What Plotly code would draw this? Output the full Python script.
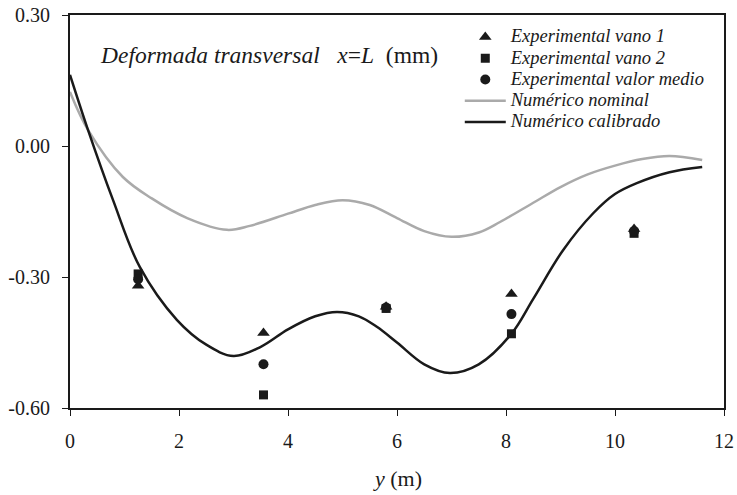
import plotly.graph_objects as go

# Measurement stations across the deck width (m)
y_exp = [1.25, 3.55, 5.8, 8.1, 10.35]
vano1 = [-0.32, -0.428, -0.368, -0.339, -0.19]
vano2 = [-0.293, -0.57, -0.372, -0.43, -0.20]
medio = [-0.305, -0.50, -0.370, -0.385, -0.195]

# Numerical transverse deflection, nominal model
y_nom = [0, 0.33, 0.97, 1.5, 2.15, 2.88, 3.3, 4.0, 4.5, 5.0, 5.5, 6.0, 6.5,
         7.0, 7.5, 7.89, 8.5, 9.0, 9.5, 10.0, 10.5, 11.0, 11.6]
w_nom = [0.124, 0.037, -0.071, -0.12, -0.165, -0.192, -0.183, -0.155, -0.135,
         -0.124, -0.135, -0.165, -0.195, -0.208, -0.198, -0.174, -0.13, -0.094,
         -0.065, -0.045, -0.03, -0.023, -0.032]

# Numerical transverse deflection, calibrated model
y_cal = [0, 0.33, 0.79, 1.28, 1.96, 2.5, 3.0, 3.5, 4.0, 4.5, 4.9, 5.3, 5.63,
         6.0, 6.5, 6.97, 7.5, 8.1, 8.5, 9.05, 9.6, 10.0, 10.4, 11.0, 11.6]
w_cal = [0.163, 0.037, -0.124, -0.277, -0.398, -0.455, -0.481, -0.46, -0.42,
         -0.39, -0.38, -0.39, -0.414, -0.45, -0.50, -0.52, -0.50, -0.43, -0.35,
         -0.238, -0.154, -0.11, -0.085, -0.06, -0.048]

x_ticks = [0, 2, 4, 6, 8, 10, 12]
y_ticks = [0.30, 0.00, -0.30, -0.60]
y_ticktext = ["0.30", "0.00", "-0.30", "-0.60"]

FONT = "Liberation Serif"
INK = "#1a1a1a"


def legend_label(text):
    # larger italic text while keeping the legend row pitch compact
    return f'<span style="font-size:18.5px"><i>{text}</i></span>'


fig = go.Figure()
fig.add_trace(go.Scatter(x=y_exp, y=vano1, mode="markers",
                         name=legend_label("Experimental vano 1"),
                         marker=dict(symbol="triangle-up", size=11, color=INK)))
fig.add_trace(go.Scatter(x=y_exp, y=vano2, mode="markers",
                         name=legend_label("Experimental vano 2"),
                         marker=dict(symbol="square", size=9, color=INK)))
fig.add_trace(go.Scatter(x=y_exp, y=medio, mode="markers",
                         name=legend_label("Experimental valor medio"),
                         marker=dict(symbol="circle", size=10, color=INK)))
fig.add_trace(go.Scatter(x=y_nom, y=w_nom, mode="lines",
                         name=legend_label("Numérico nominal"),
                         line=dict(color="#aaaaaa", width=2.5, shape="spline")))
fig.add_trace(go.Scatter(x=y_cal, y=w_cal, mode="lines",
                         name=legend_label("Numérico calibrado"),
                         line=dict(color=INK, width=2.5, shape="spline")))

# chart caption inside the plot area
fig.add_annotation(
    x=0.043, y=0.898, xref="paper", yref="paper", xanchor="left", yanchor="middle",
    text="<i>Deformada transversal&nbsp;&nbsp;&nbsp;x</i>=<i>L</i>&nbsp;&nbsp;(mm)",
    showarrow=False, font=dict(family=FONT, size=23.5, color=INK))

# x-axis title
fig.add_annotation(
    x=0.5, y=-0.18, xref="paper", yref="paper", xanchor="center", yanchor="middle",
    text="<i>y</i>&nbsp;(m)", showarrow=False,
    font=dict(family=FONT, size=22, color=INK))

fig.update_layout(
    width=737, height=495,
    margin=dict(l=70, r=13, t=15, b=87),
    paper_bgcolor="white", plot_bgcolor="white",
    font=dict(family=FONT, size=20, color=INK),
    showlegend=True,
    legend=dict(x=0.596, y=0.984, xanchor="left", yanchor="top",
                bgcolor="rgba(0,0,0,0)", font=dict(family=FONT, size=14.04),
                tracegroupgap=0, itemwidth=41),
    xaxis=dict(range=[0, 12], tickvals=x_ticks, ticks="outside", ticklen=6,
               tickcolor=INK, showgrid=False, zeroline=False, automargin=False,
               showline=True, linecolor=INK, linewidth=2, mirror=True,
               ticklabelstandoff=8),
    yaxis=dict(range=[-0.60, 0.30], tickvals=y_ticks, ticktext=y_ticktext,
               ticks="outside", ticklen=6, tickcolor=INK, showgrid=False,
               zeroline=False, showline=True, linecolor=INK, linewidth=2,
               mirror=True, automargin=False, ticklabelstandoff=8),
)

fig.write_html("out.html")
